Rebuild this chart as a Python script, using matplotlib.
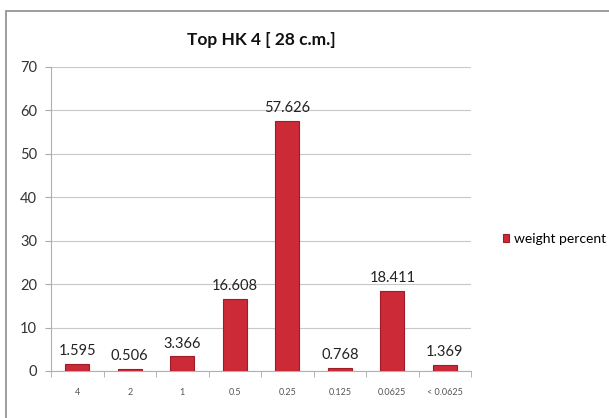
import matplotlib
matplotlib.use("Agg")
import matplotlib.pyplot as plt
from matplotlib.patches import Rectangle
import numpy as np

categories = ["4", "2", "1", "0.5", "0.25", "0.125", "0.0625", "< 0.0625"]
weight_percent = [1.595, 0.506, 3.366, 16.608, 57.626, 0.768, 18.411, 1.369]
value_labels = ["1.595", "0.506", "3.366", "16.608", "57.626", "0.768", "18.411", "1.369"]
y_ticks = [0, 10, 20, 30, 40, 50, 60, 70]

plt.rcParams['font.family'] = ['Lato', 'DejaVu Sans']

fig = plt.figure(figsize=(6.09, 4.18), dpi=100)
fig.patch.set_facecolor("white")

# outer chart frame
fig.add_artist(Rectangle((6 / 609, -0.05), 1.0, (418 - 11) / 418 + 0.05,
                         transform=fig.transFigure, fill=False,
                         edgecolor="#8c8c8c", linewidth=1.2))

ax = fig.add_axes([51 / 609, 47 / 418, 420 / 609, 304 / 418])
x = np.arange(len(categories))
bars = ax.bar(x, weight_percent, width=0.46, color="#cc2a36",
              edgecolor="#9e1b28", linewidth=0.8, label="weight percent", zorder=3)

for xi, v, lab in zip(x, weight_percent, value_labels):
    ax.text(xi, v + 1.3, lab, ha="center", va="bottom", fontsize=10.5,
            color="#222222", zorder=4)

ax.set_xlim(-0.5, len(categories) - 0.5)
ax.set_ylim(0, 70)
ax.set_yticks(y_ticks)
ax.set_yticklabels([str(t) for t in y_ticks], fontsize=10.5, color="#333333")
ax.yaxis.grid(True, color="#c8c8c8", linewidth=0.8, zorder=0)
ax.set_xticks(x)
ax.set_xticklabels(categories, fontsize=6.5, color="#555555")
ax.set_xticks(np.arange(-0.5, len(categories), 1.0), minor=True)
ax.tick_params(axis="x", which="major", length=0, pad=12)
ax.tick_params(axis="x", which="minor", length=4, color="#aaaaaa")
ax.tick_params(axis="y", length=4, color="#aaaaaa", pad=6)

for side in ["top", "right"]:
    ax.spines[side].set_visible(False)
ax.spines["left"].set_color("#b0b0b0")
ax.spines["bottom"].set_color("#b0b0b0")

ax.set_title("Top HK 4 [ 28 c.m.]", fontsize=12.5, fontweight="bold",
             color="#111111", pad=16)

fig.legend(handles=[bars], labels=["weight percent"], loc="center left",
           bbox_to_anchor=(490 / 609, 1 - 239 / 418), frameon=False,
           fontsize=10, handlelength=0.5, handleheight=0.5, handletextpad=0.3)

fig.savefig("out.png", dpi=100, facecolor="white")
